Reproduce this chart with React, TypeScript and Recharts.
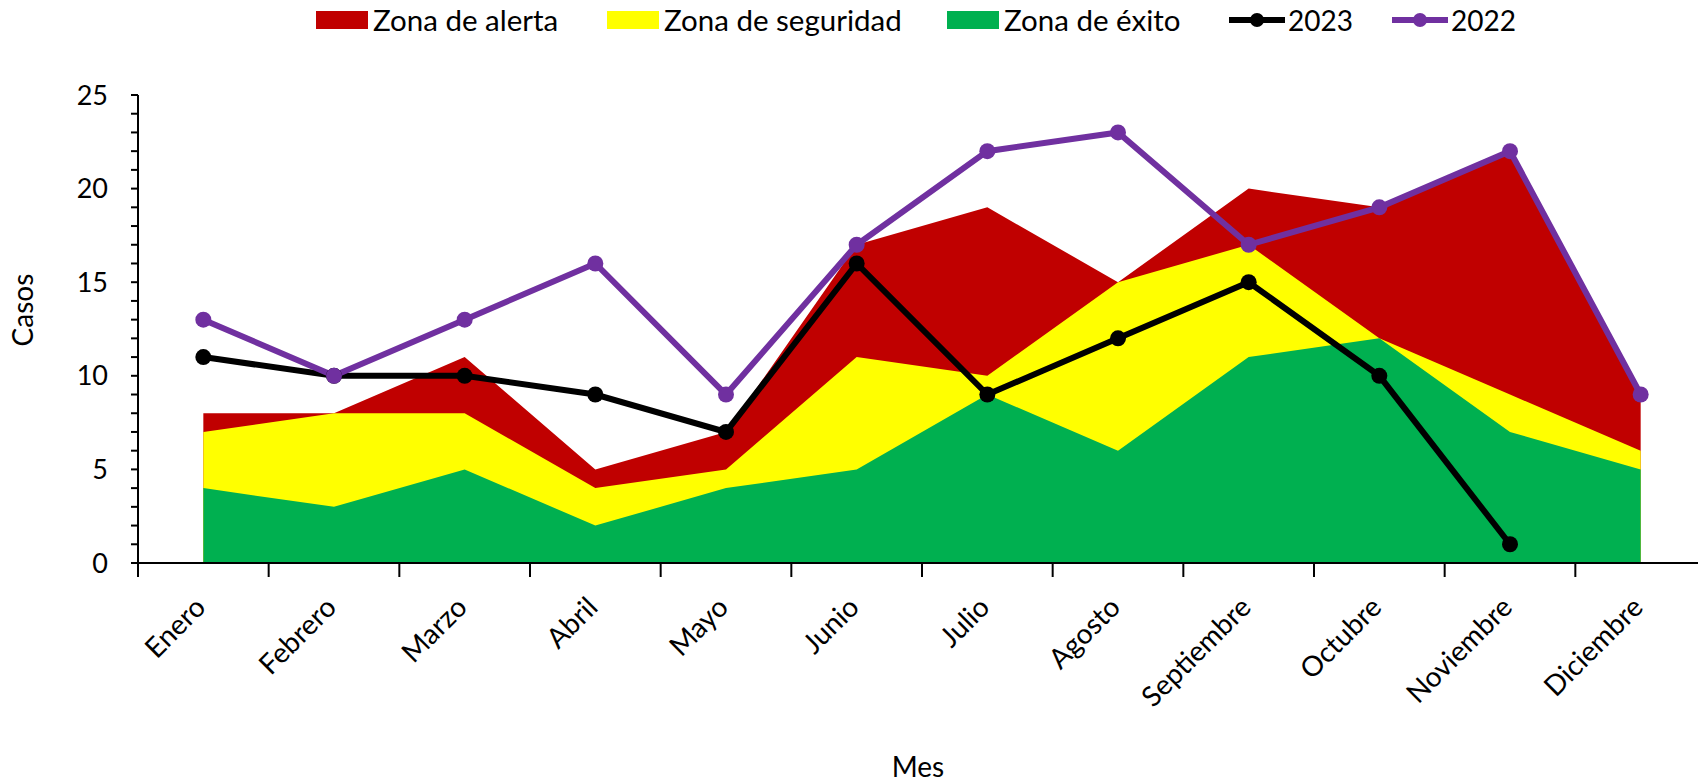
import React from 'react';
import { ComposedChart, Area, Line, XAxis, YAxis, Legend } from 'recharts';

const MONTHS = ['Enero', 'Febrero', 'Marzo', 'Abril', 'Mayo', 'Junio', 'Julio', 'Agosto', 'Septiembre', 'Octubre', 'Noviembre', 'Diciembre'];
const ZONA_ALERTA = [8, 8, 11, 5, 7, 17, 19, 15, 20, 19, 22, 9];
const ZONA_SEGURIDAD = [7, 8, 8, 4, 5, 11, 10, 15, 17, 12, 9, 6];
const ZONA_EXITO = [4, 3, 5, 2, 4, 5, 9, 6, 11, 12, 7, 5];
const CASOS_2023: (number | null)[] = [11, 10, 10, 9, 7, 16, 9, 12, 15, 10, 1, null];
const CASOS_2022 = [13, 10, 13, 16, 9, 17, 22, 23, 17, 19, 22, 9];
const Y_TICKS = [0, 1, 2, 3, 4, 5, 6, 7, 8, 9, 10, 11, 12, 13, 14, 15, 16, 17, 18, 19, 20, 21, 22, 23, 24, 25];
const Y_LABELED = [0, 5, 10, 15, 20, 25];

const data = MONTHS.map((m, i) => ({
  mes: m,
  alerta: ZONA_ALERTA[i],
  seguridad: ZONA_SEGURIDAD[i],
  exito: ZONA_EXITO[i],
  y2023: CASOS_2023[i],
  y2022: CASOS_2022[i],
}));

const FONT = 'Lato, "Open Sans", sans-serif';
const RED = '#C00000';
const YELLOW = '#FFFF00';
const GREEN = '#00B050';
const PURPLE = '#7030A0';

const XTick = (props: any) => {
  const { x, y, payload, width, visibleTicksCount, index } = props;
  const band = width && visibleTicksCount ? width / visibleTicksCount : 130.67;
  const left = x - band / 2;
  const px = x + 4;
  const py = y + 46;
  return (
    <g>
      <line x1={left} y1={y} x2={left} y2={y + 14} stroke="#000" strokeWidth={2} />
      {index === visibleTicksCount - 1 && (
        <line x1={x + band / 2} y1={y} x2={x + band / 2} y2={y + 14} stroke="#000" strokeWidth={2} />
      )}
      <text x={px} y={py} textAnchor="end" transform={`rotate(-45 ${px} ${py})`} fontFamily={FONT} fontSize={28} fill="#000">
        {payload.value}
      </text>
    </g>
  );
};

const YLabel = () => (
  <text x={33} y={310} transform="rotate(-90 33 310)" textAnchor="middle" fontFamily={FONT} fontSize={28} fill="#000">
    Casos
  </text>
);

const XLabel = () => (
  <text x={918} y={777} textAnchor="middle" fontFamily={FONT} fontSize={28} fill="#000">
    Mes
  </text>
);

const LEGEND_ITEMS = [
  { name: 'Zona de alerta', color: RED, kind: 'area', left: 316 },
  { name: 'Zona de seguridad', color: YELLOW, kind: 'area', left: 607 },
  { name: 'Zona de éxito', color: GREEN, kind: 'area', left: 947 },
  { name: '2023', color: '#000', kind: 'line', left: 1229 },
  { name: '2022', color: PURPLE, kind: 'line', left: 1392 },
];

const renderLegend = () => (
  <div style={{ position: 'relative', width: 1720, height: 40, fontFamily: FONT, fontSize: 29.5, color: '#000' }}>
    {LEGEND_ITEMS.map((it) => (
      <div key={it.name} style={{ position: 'absolute', left: it.left, top: 2, height: 36, display: 'flex', alignItems: 'center', whiteSpace: 'nowrap' }}>
        {it.kind === 'area' ? (
          <div style={{ width: 52, height: 18, background: it.color, marginRight: 5 }} />
        ) : (
          <svg width={56} height={18} style={{ marginRight: 3 }}>
            <line x1={1} y1={9} x2={55} y2={9} stroke={it.color} strokeWidth={6} strokeLinecap="round" />
            <circle cx={28} cy={9} r={7} fill={it.color} />
          </svg>
        )}
        <span style={{ lineHeight: '36px', fontSize: it.kind === 'line' ? 28 : 29.5 }}>{it.name}</span>
      </div>
    ))}
  </div>
);

export default function App() {
  return (
    <div style={{ position: 'absolute', top: 0, left: 0, width: 1698, height: 782, overflow: 'hidden', background: '#fff' }}>
      <ComposedChart width={1720} height={782} data={data} margin={{ top: 95, right: 14, bottom: 0, left: 0 }}>
        <Legend content={renderLegend} verticalAlign="middle" align="center" wrapperStyle={{ top: 0, left: 0, width: 1720, height: 40 }} />
        <XAxis
          dataKey="mes"
          scale="band"
          height={219}
          interval={0}
          tick={<XTick />}
          tickLine={false}
          tickSize={0}
          tickMargin={0}
          axisLine={{ stroke: '#000', strokeWidth: 2 }}
          label={<XLabel />}
        />
        <YAxis
          width={138}
          domain={[0, 25]}
          ticks={Y_TICKS}
          interval={0}
          tickSize={7}
          tickMargin={23}
          tickFormatter={(v: number) => (Y_LABELED.includes(v) ? String(v) : '')}
          tick={{ fontFamily: FONT, fontSize: 27, fill: '#000' }}
          tickLine={{ stroke: '#000', strokeWidth: 2 }}
          axisLine={{ stroke: '#000', strokeWidth: 2 }}
          label={<YLabel />}
          allowDecimals={false}
        />
        <Area type="linear" dataKey="alerta" name="Zona de alerta" fill={RED} fillOpacity={1} stroke="none" isAnimationActive={false} dot={false} activeDot={false} />
        <Area type="linear" dataKey="seguridad" name="Zona de seguridad" fill={YELLOW} fillOpacity={1} stroke="none" isAnimationActive={false} dot={false} activeDot={false} />
        <Area type="linear" dataKey="exito" name="Zona de éxito" fill={GREEN} fillOpacity={1} stroke="none" isAnimationActive={false} dot={false} activeDot={false} />
        <Line type="linear" dataKey="y2023" name="2023" stroke="#000" strokeWidth={6} dot={{ r: 8, fill: '#000', stroke: '#000', strokeWidth: 0 }} activeDot={false} isAnimationActive={false} />
        <Line type="linear" dataKey="y2022" name="2022" stroke={PURPLE} strokeWidth={6} dot={{ r: 8, fill: PURPLE, stroke: PURPLE, strokeWidth: 0 }} activeDot={false} isAnimationActive={false} />
      </ComposedChart>
    </div>
  );
}
